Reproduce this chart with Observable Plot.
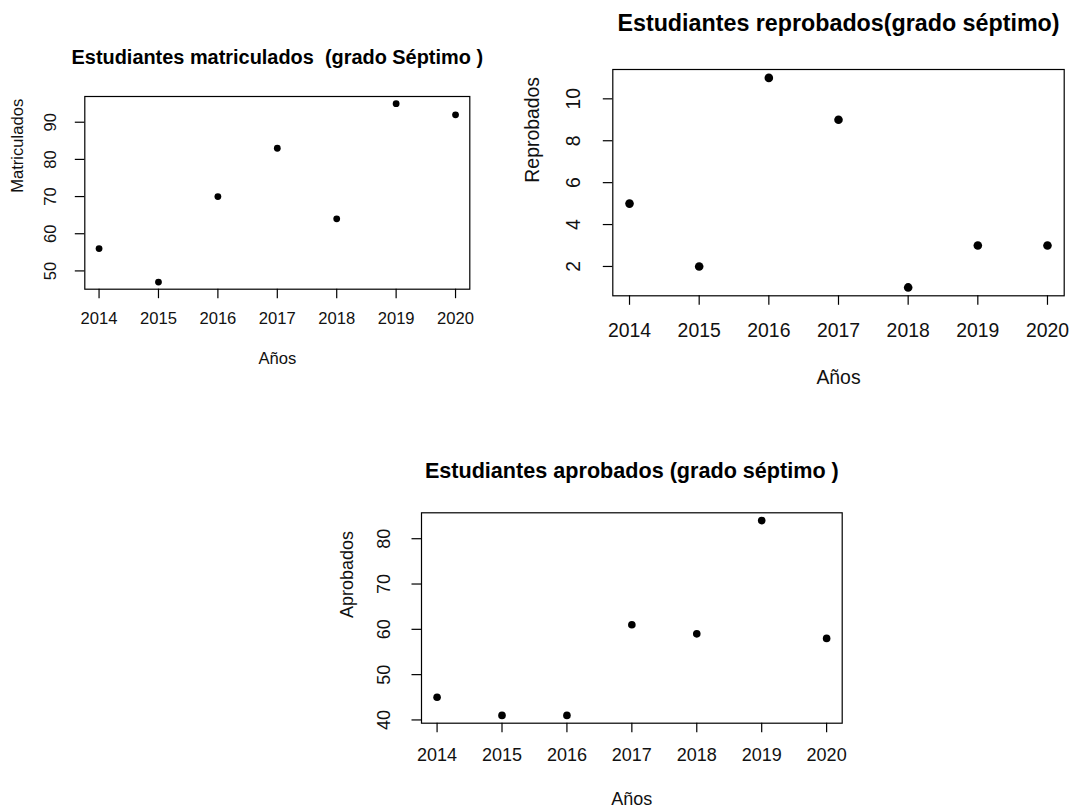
<!DOCTYPE html>
<html><head><meta charset="utf-8">
<script src="https://cdn.jsdelivr.net/npm/d3@7"></script>
<script src="https://cdn.jsdelivr.net/npm/@observablehq/plot@0.6"></script>
<style>
body{margin:0;background:#fff;}
#root{position:relative;width:1071px;height:808px;overflow:hidden;background:#fff;}
#root svg{position:absolute;max-width:none;}
</style></head><body><div id="root"></div>
<script>
const years = [2014, 2015, 2016, 2017, 2018, 2019, 2020];
const matriculados = [56, 47, 70, 83, 64, 95, 92];
const reprobados = [5, 2, 11, 9, 1, 3, 3];
const aprobados = [45, 41, 41, 61, 59, 84, 58];
const matriculadosTicks = [50, 60, 70, 80, 90];
const reprobadosTicks = [2, 4, 6, 8, 10];
const aprobadosTicks = [40, 50, 60, 70, 80];
const titles = ["Estudiantes matriculados  (grado Séptimo )", "Estudiantes reprobados(grado séptimo)", "Estudiantes aprobados (grado séptimo )"];
const yLabels = ["Matriculados", "Reprobados", "Aprobados"];
const xLabel = "Años";

const FONT = '"Liberation Sans", Arial, Helvetica, sans-serif';

function ext(vals) {
  const lo = Math.min(...vals), hi = Math.max(...vals), d = (hi - lo) * 0.04;
  return [lo - d, hi + d];
}

function panel(o) {
  const data = years.map((year, i) => ({year, value: o.values[i]}));
  const svg = Plot.plot({
    width: o.width, height: o.height,
    marginTop: o.margin[0], marginRight: o.margin[1], marginBottom: o.margin[2], marginLeft: o.margin[3],
    style: {fontFamily: FONT, color: "#000", background: "transparent", overflow: "visible"},
    x: {domain: ext(years)},
    y: {domain: ext(o.values)},
    marks: [
      Plot.frame({stroke: "#000", strokeWidth: 1.2}),
      Plot.axisX({ticks: years, tickFormat: d => String(d), tickSize: 9.5, tickPadding: o.xTickOff - 9.5, lineAnchor: "middle", fontSize: o.fs, label: null, strokeWidth: 1.2, fill: "#111"}),
      Plot.axisY({ticks: o.yTicks, tickFormat: d => String(d), tickSize: 9.5, tickPadding: o.yTickOff - 9.5, tickRotate: -90, fontSize: o.fs, label: null, strokeWidth: 1.2, fill: "#111"}),
      Plot.dot(data, {x: "year", y: "value", r: o.r, fill: "#000"}),
      Plot.text([o.title], {text: d => d, frameAnchor: "top", dy: o.titleDy, fontSize: o.fs * 1.2, fontWeight: "bold", lineAnchor: "middle", fill: "#000"}),
      Plot.text([o.yLabel], {text: d => d, frameAnchor: "left", dx: o.yLabelDx, rotate: -90, fontSize: o.fs, lineAnchor: "middle", fill: "#111"}),
      Plot.text([xLabel], {text: d => d, frameAnchor: "bottom", dy: o.xLabelDy, fontSize: o.fs, lineAnchor: "middle", fill: "#111"})
    ]
  });
  svg.style.left = o.left + "px";
  svg.style.top = o.top + "px";
  document.getElementById("root").appendChild(svg);
}

panel({values: matriculados, yTicks: matriculadosTicks, title: titles[0], yLabel: yLabels[0],
  left: 0, top: 0, width: 500, height: 390, margin: [96, 30.7, 101.3, 84.3],
  fs: 16.6, r: 3.4, titleDy: -39.3, yLabelDx: -67.5, xLabelDy: 69.3, xTickOff: 29.6, yTickOff: 29.3});

panel({values: reprobados, yTicks: reprobadosTicks, title: titles[1], yLabel: yLabels[1],
  left: 500, top: 0, width: 571, height: 400, margin: [69, 7.3, 104.7, 112.3],
  fs: 19.4, r: 4.3, titleDy: -45.7, yLabelDx: -79.6, xLabelDy: 82.4, xTickOff: 34.7, yTickOff: 33.3});

panel({values: aprobados, yTicks: aprobadosTicks, title: titles[2], yLabel: yLabels[2],
  left: 300, top: 420, width: 560, height: 388, margin: [92.3, 18.3, 85.3, 121],
  fs: 18, r: 3.8, titleDy: -41.6, yLabelDx: -74.3, xLabelDy: 75.6, xTickOff: 32.3, yTickOff: 31.7});
</script>
</body></html>
